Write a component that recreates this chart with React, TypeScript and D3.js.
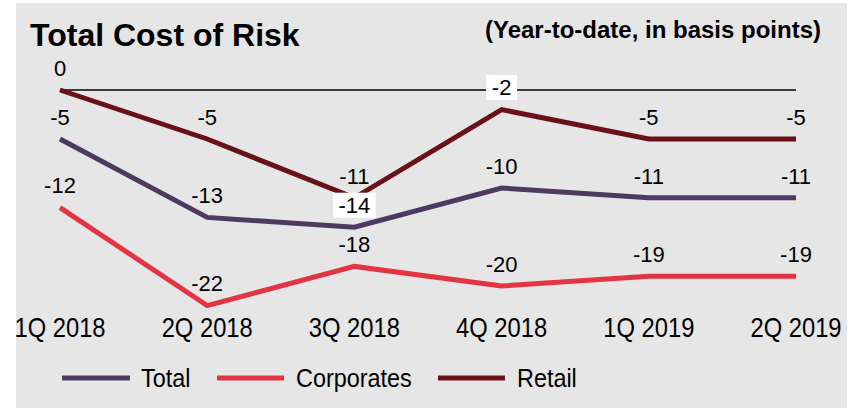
import React from "react";
import * as d3 from "d3";

const categories = ["1Q 2018", "2Q 2018", "3Q 2018", "4Q 2018", "1Q 2019", "2Q 2019"];
const totalValues = [-5, -13, -14, -10, -11, -11];
const corporatesValues = [-12, -22, -18, -20, -19, -19];
const retailValues = [0, -5, -11, -2, -5, -5];
const seriesNames = ["Total", "Corporates", "Retail"];
const seriesColors = ["#4e3a60", "#e23442", "#6a1018"];
// labels drawn with a white box behind them: [seriesIndex, pointIndex]
const boxedLabels = [[0, 2], [2, 3]];

const W = 854;
const H = 408;

export default function App() {
  const x = d3.scalePoint<string>().domain(categories).range([60, 796]);
  const y = d3.scaleLinear().domain([0, -22]).range([90, 305.6]);
  const allSeries = [totalValues, corporatesValues, retailValues];
  const line = d3
    .line<number>()
    .x((_, i) => x(categories[i]) as number)
    .y((v) => y(v));

  const isBoxed = (s: number, i: number) => boxedLabels.some(([a, b]) => a === s && b === i);
  const labelFont = "'Liberation Sans', Arial, sans-serif";

  const legendItems = [
    { x1: 62, x2: 130, tx: 141 },
    { x1: 217, x2: 284, tx: 296 },
    { x1: 438, x2: 505, tx: 517 },
  ];

  return (
    <svg
      width={W}
      height={H}
      style={{ position: "absolute", left: 0, top: 0 }}
      xmlns="http://www.w3.org/2000/svg"
    >
      <rect x={0} y={0} width={W} height={H} fill="#ffffff" />
      <rect x={16} y={3} width={831} height={405} fill="#e6e6e6" />
      <text x={30} y={46} fontFamily={labelFont} fontWeight="bold" fontSize={32} fill="#000">
        Total Cost of Risk
      </text>
      <text x={821} y={38} textAnchor="end" fontFamily={labelFont} fontWeight="bold" fontSize={24} fill="#000">
        (Year-to-date, in basis points)
      </text>
      <line x1={x(categories[0])} x2={x(categories[categories.length - 1])} y1={y(0)} y2={y(0)} stroke="#000" strokeWidth={1.5} />
      {allSeries.map((vals, s) => (
        <path key={s} d={line(vals) || ""} fill="none" stroke={seriesColors[s]} strokeWidth={5} strokeLinejoin="miter" />
      ))}
      {allSeries.map((vals, s) =>
        vals.map((v, i) => {
          const cx = x(categories[i]) as number;
          const cy = y(v) - 22;
          const txt = String(v);
          const boxed = isBoxed(s, i);
          const w = txt.length * 11.5 + 8;
          return (
            <g key={`${s}-${i}`}>
              {boxed && <rect x={cx - w / 2} y={cy - 12.5} width={w} height={25} fill="#ffffff" />}
              <text x={cx} y={cy} dy="0.35em" textAnchor="middle" fontFamily={labelFont} fontSize={22} fill="#000">
                {txt}
              </text>
            </g>
          );
        })
      )}
      {categories.map((c) => (
        <g key={c} transform={`translate(${x(c)},337) scale(0.88,1)`}>
          <text x={0} y={0} textAnchor="middle" fontFamily={labelFont} fontSize={27} fill="#000">
            {c}
          </text>
        </g>
      ))}
      {seriesNames.map((n, s) => (
        <g key={n}>
          <line x1={legendItems[s].x1} x2={legendItems[s].x2} y1={378} y2={378} stroke={seriesColors[s]} strokeWidth={5} />
          <g transform={`translate(${legendItems[s].tx},378) scale(0.9,1)`}>
            <text x={0} y={0} dy="0.35em" fontFamily={labelFont} fontSize={26} fill="#000">
              {n}
            </text>
          </g>
        </g>
      ))}
    </svg>
  );
}
